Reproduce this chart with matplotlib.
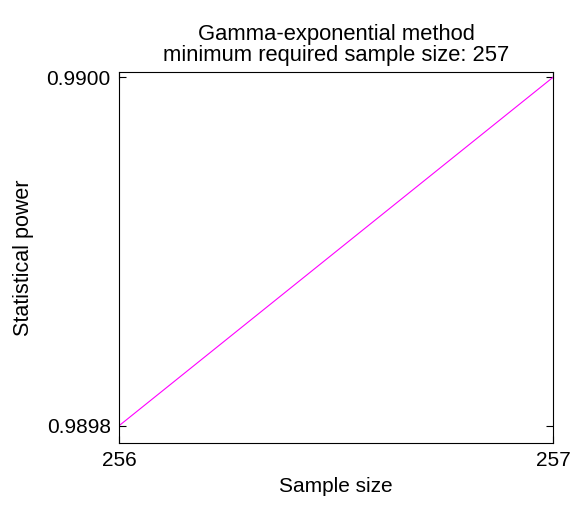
import matplotlib
matplotlib.use('Agg')
import matplotlib.pyplot as plt

plt.rcParams['font.family'] = ['Liberation Sans', 'DejaVu Sans']

sample_size = [256, 257]
power = [0.9898, 0.9900]
x_ticks = [256, 257]
y_ticks = [0.9898, 0.9900]
y_tick_labels = ['0.9898', '0.9900']

fig = plt.figure(figsize=(5.81, 5.07), dpi=100)
ax = fig.add_axes([0.205, 0.126, 0.747, 0.732])

ax.plot(sample_size, power, color='#ff00ff', linewidth=0.8)

ax.set_xlim(256, 257)
ax.set_ylim(0.989790, 0.990003)
ax.set_xticks(x_ticks)
ax.set_xticklabels([str(t) for t in x_ticks])
ax.set_yticks(y_ticks)
ax.set_yticklabels(y_tick_labels)
ax.tick_params(direction='in', length=5, width=0.8, labelsize=15,
               top=True, right=True, pad=6)
for s in ax.spines.values():
    s.set_linewidth(0.8)

ax.set_title('Gamma-exponential method\nminimum required sample size: 257',
             fontsize=15.8, pad=8, linespacing=1.0)
ax.set_xlabel('Sample size', fontsize=15, labelpad=5)
ax.set_ylabel('Statistical power', fontsize=15.5, labelpad=9)

fig.savefig('out.png', dpi=100)
